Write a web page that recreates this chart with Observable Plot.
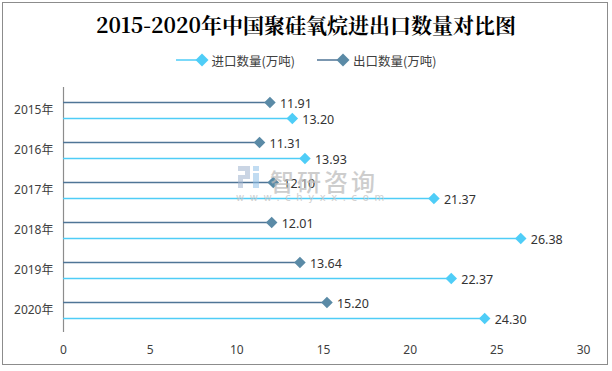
<!DOCTYPE html>
<html>
<head>
<meta charset="utf-8">
<script src="https://cdn.jsdelivr.net/npm/d3@7"></script>
<script src="https://cdn.jsdelivr.net/npm/@observablehq/plot@0.6"></script>
<style>
  html, body { margin: 0; padding: 0; background: #fff; }
  #wrap { position: relative; width: 612px; height: 371px; overflow: hidden;
          font-family: "Noto Sans CJK SC", "Noto Sans", sans-serif; }
  #border { position: absolute; left: 2px; top: 2px; width: 604px; height: 361px;
            border: 1px solid #8c8c8c; pointer-events: none; }
  #title { position: absolute; left: 0; top: 9px; width: 612px; text-align: center;
           font-size: 21px; font-weight: bold; color: #000; line-height: 30px;
           font-family: "Noto Serif CJK SC", "Noto Sans CJK SC", serif; }
  #legend { position: absolute; left: 0; top: 50px; width: 612px; height: 20px;
            display: flex; justify-content: center; align-items: center; gap: 22px;
            font-size: 12.5px; color: #404040; }
  .item { display: flex; align-items: center; gap: 2px; }
  #chart { position: absolute; left: 0; top: 75px; }
  #wm1 { position: absolute; left: 270px; top: 163px; font-size: 24px; color: #bdbdbd;
         opacity: 0.75; letter-spacing: 3px; font-weight: 500; }
  #wm2 { position: absolute; left: 236px; top: 192px; font-size: 10px; color: #c4c4c4;
         opacity: 0.8; letter-spacing: 5.6px; font-family: "DejaVu Sans", sans-serif; }
  #wmlogo { position: absolute; left: 237px; top: 164px; width: 24px; height: 26px; opacity: 0.55; }
</style>
</head>
<body>
<div id="wrap">
  <div id="title">2015-2020年中国聚硅氧烷进出口数量对比图</div>
  <div id="legend"></div>
  <div id="chart"></div>
  <svg id="wmlogo" viewBox="0 0 24 26">
    <rect x="1" y="2" width="12" height="5" fill="#9fb3cf"/>
    <rect x="8" y="7" width="5" height="7" fill="#9fb3cf"/>
    <rect x="1" y="11" width="12" height="4" fill="#9fb3cf"/>
    <rect x="1" y="15" width="5" height="9" fill="#9fb3cf"/>
    <rect x="16" y="2" width="6" height="5" fill="#8fc0e8"/>
    <rect x="16" y="9" width="6" height="15" fill="#8fc0e8"/>
  </svg>
  <div id="wm1">智研咨询</div>
  <div id="wm2">www.chyxx.com</div>
  <div id="border"></div>
</div>
<script>
// ---- data ----
const years = ["2015年", "2016年", "2017年", "2018年", "2019年", "2020年"];
const importValues = [13.20, 13.93, 21.37, 26.38, 22.37, 24.30]; // 进口数量(万吨)
const exportValues = [11.91, 11.31, 12.10, 12.01, 13.64, 15.20]; // 出口数量(万吨)
const xTicks = [0, 5, 10, 15, 20, 25, 30];
const seriesNames = ["进口数量(万吨)", "出口数量(万吨)"];

const importColor = "#4fcdf7";
const exportColor = "#5a8aa6";
const exportLine = "#4f7596";

const imp = years.map((y, i) => ({year: y, value: importValues[i]}));
const exp = years.map((y, i) => ({year: y, value: exportValues[i]}));

// legend
const legend = document.getElementById("legend");
[[seriesNames[0], importColor, importColor], [seriesNames[1], exportLine, exportColor]].forEach(([name, lc, fc]) => {
  const d = document.createElement("div");
  d.className = "item";
  d.innerHTML = `<svg width="34" height="14"><line x1="0" y1="7" x2="26" y2="7" stroke="${lc}" stroke-width="1.5"/>` +
    `<path d="M26,0.5 L32.5,7 L26,13.5 L19.5,7 Z" fill="${fc}"/></svg><span>${name}</span>`;
  legend.appendChild(d);
});

const off = 8;
const chart = Plot.plot({
  width: 612,
  height: 296,
  marginLeft: 63,
  marginRight: 29,
  marginTop: 12,
  marginBottom: 39,
  style: {fontFamily: "'Noto Sans', 'Noto Sans CJK SC', sans-serif", fontSize: "12px", color: "#404040", background: "transparent"},
  x: {domain: [0, 30], ticks: xTicks, tickSize: 0, tickPadding: 13, tickFormat: d => d, label: null},
  y: {type: "band", domain: years, padding: 0, tickSize: 0, tickPadding: 10, label: null},
  marks: [
    Plot.ruleX([0], {stroke: "#8c8c8c", strokeWidth: 1.2}),
    Plot.ruleY(exp, {y: "year", x1: 0, x2: "value", dy: -off, stroke: exportLine, strokeWidth: 1.5}),
    Plot.ruleY(imp, {y: "year", x1: 0, x2: "value", dy: off, stroke: importColor, strokeWidth: 1.5}),
    Plot.dot(exp, {y: "year", x: "value", dy: -off, symbol: "diamond2", r: 5.2, fill: exportColor, stroke: null}),
    Plot.dot(imp, {y: "year", x: "value", dy: off, symbol: "diamond2", r: 5.2, fill: importColor, stroke: null}),
    Plot.text(exp, {y: "year", x: "value", dy: -off + 1, dx: 10, text: d => d.value.toFixed(2), textAnchor: "start", fill: "#333", fontSize: 12.5}),
    Plot.text(imp, {y: "year", x: "value", dy: off + 1, dx: 10, text: d => d.value.toFixed(2), textAnchor: "start", fill: "#333", fontSize: 12.5})
  ]
});
document.getElementById("chart").appendChild(chart);
</script>
</body>
</html>
